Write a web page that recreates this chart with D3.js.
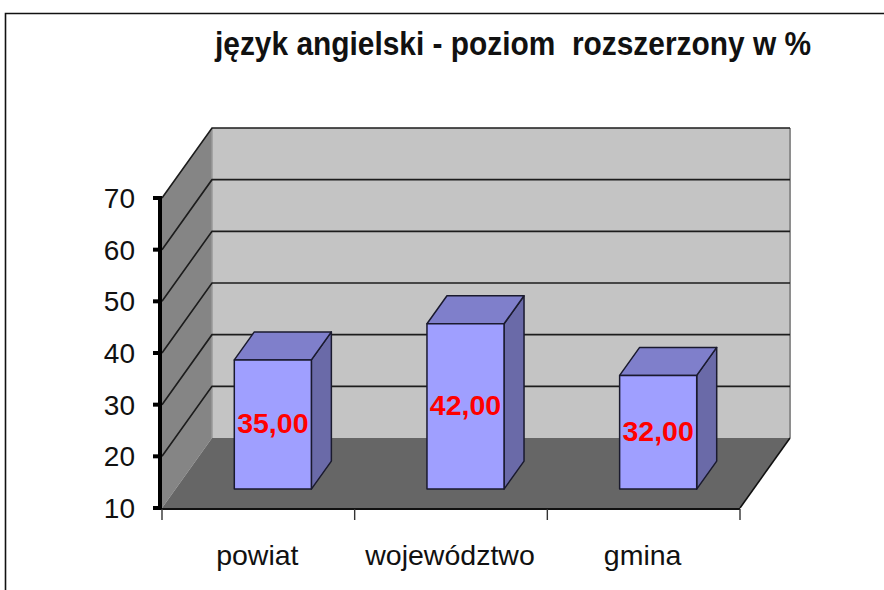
<!DOCTYPE html>
<html>
<head>
<meta charset="utf-8">
<style>
    html, body { margin: 0; padding: 0; background: #fff; }
    svg { display: block; }
    text { font-family: "Liberation Sans", Arial, sans-serif; }
    .title { font-size: 33px; font-weight: bold; fill: #111; white-space: pre; }
    .tick-label { font-size: 28px; fill: #111; }
    .cat-label { font-size: 28.5px; fill: #111; }
    .value { font-size: 28.5px; font-weight: bold; fill: #ff0000; text-anchor: middle; }
    .grid { stroke: #1c1c1c; stroke-width: 1.6; fill: none; }
    .bar-edge { stroke: #1a1a2e; stroke-width: 1.5; stroke-linejoin: round; }
</style>
</head>
<body>
<div id="chart"></div>
<script src="https://d3js.org/d3.v7.min.js"></script>
<script>
var categories = ["powiat", "województwo", "gmina"];
var values = [35, 42, 32];
var valueLabels = ["35,00", "42,00", "32,00"];
var yTicks = [10, 20, 30, 40, 50, 60, 70];
var titleText = "język angielski - poziom  rozszerzony w %";

var width = 884, height = 590;

var svg = d3.select("#chart").append("svg")
    .attr("width", width)
    .attr("height", height);

// scales: y for the value, x for categories, depth for going into the picture
var y = d3.scaleLinear().domain([10, 70]).range([508, 198]);
var x = d3.scaleBand().domain(categories).range([162, 740]).paddingInner(0).paddingOuter(0);
var depthX = d3.scaleLinear().domain([0, 1]).range([0, 50]);
var depthY = d3.scaleLinear().domain([0, 1]).range([0, -70]);

var x0 = x.range()[0], x1 = x.range()[1], yBase = y(10), yTop = y(70);

function pt(px, py, d) {
    return [px + depthX(d), py + depthY(d)];
}
function poly(points) {
    return d3.line()(points) + "Z";
}

// outer frame
svg.append("path")
    .attr("d", "M5.5,590V13.5H884")
    .attr("fill", "none")
    .attr("stroke", "#111")
    .attr("stroke-width", 1.6);

svg.append("text")
    .attr("class", "title")
    .attr("x", 215)
    .attr("y", 55)
    .attr("textLength", 596)
    .attr("lengthAdjust", "spacingAndGlyphs")
    .text(titleText);

// back wall
svg.append("path")
    .attr("d", poly([pt(x0, yTop, 1), pt(x1, yTop, 1), pt(x1, yBase, 1), pt(x0, yBase, 1)]))
    .attr("fill", "#c4c4c4");
svg.append("path")
    .attr("d", d3.line()([pt(x1, yTop, 1), pt(x1, yBase, 1)]))
    .attr("stroke", "#8e8e8e")
    .attr("stroke-width", 2);

// side wall
svg.append("path")
    .attr("d", poly([pt(x0, yTop, 0), pt(x0, yTop, 1), pt(x0, yBase, 1), pt(x0, yBase, 0)]))
    .attr("fill", "#858585");
svg.append("path")
    .attr("d", d3.line()([pt(x0, yTop, 1), pt(x0, yBase, 1)]))
    .attr("stroke", "#9a9a9a")
    .attr("stroke-width", 1.5);

// floor
svg.append("path")
    .attr("d", poly([pt(x0, yBase, 0), pt(x0, yBase, 1), pt(x1, yBase, 1), pt(x1, yBase, 0)]))
    .attr("fill", "#666666");
svg.append("path")
    .attr("d", d3.line()([pt(x1, yBase, 1), pt(x1, yBase, 0)]))
    .attr("stroke", "#111")
    .attr("stroke-width", 1.6);

// gridlines, running along the side wall and the back wall
svg.selectAll("path.grid")
    .data(yTicks.slice(1))
    .enter().append("path")
    .attr("class", "grid")
    .attr("d", function (t) {
        return d3.line()([pt(x0, y(t), 0), pt(x0, y(t), 1), pt(x1, y(t), 1)]);
    });

// bars, front face sits 0.27 into the depth and the bar is 0.4 deep
var barWidth = x.bandwidth() * 0.4;
var zFront = 0.27, zBack = 0.67;

var bar = svg.selectAll("g.bar")
    .data(categories)
    .enter().append("g")
    .attr("class", "bar");

function barLeft(d) { return x(d) + x.bandwidth() / 2 - barWidth / 2 + 1; }
function barTop(i) { return y(values[i]); }

bar.append("path")
    .attr("class", "bar-edge")
    .attr("fill", "#6a6aa8")
    .attr("d", function (d, i) {
        var r = barLeft(d) + barWidth;
        return poly([pt(r, barTop(i), zFront), pt(r, barTop(i), zBack), pt(r, yBase, zBack), pt(r, yBase, zFront)]);
    });

bar.append("path")
    .attr("class", "bar-edge")
    .attr("fill", "#7f7fcb")
    .attr("d", function (d, i) {
        var l = barLeft(d), r = l + barWidth;
        return poly([pt(l, barTop(i), zFront), pt(l, barTop(i), zBack), pt(r, barTop(i), zBack), pt(r, barTop(i), zFront)]);
    });

bar.append("path")
    .attr("class", "bar-edge")
    .attr("fill", "#9f9fff")
    .attr("d", function (d, i) {
        var l = barLeft(d), r = l + barWidth;
        return poly([pt(l, barTop(i), zFront), pt(r, barTop(i), zFront), pt(r, yBase, zFront), pt(l, yBase, zFront)]);
    });

bar.append("text")
    .attr("class", "value")
    .attr("x", function (d) { return barLeft(d) + barWidth / 2 + depthX(zFront); })
    .attr("y", function (d, i) {
        return (barTop(i) + yBase) / 2 + depthY(zFront) + 8.5;
    })
    .text(function (d, i) { return valueLabels[i]; });

// y axis
svg.append("path")
    .attr("d", d3.line()([[x0 - 2, yTop - 1], [x0 - 2, yBase + 2]]))
    .attr("stroke", "#000")
    .attr("stroke-width", 4);

svg.selectAll("line.ytick")
    .data(yTicks)
    .enter().append("line")
    .attr("class", "ytick")
    .attr("x1", 153)
    .attr("x2", x0)
    .attr("y1", function (t) { return y(t); })
    .attr("y2", function (t) { return y(t); })
    .attr("stroke", "#000")
    .attr("stroke-width", 4);

svg.selectAll("text.tick-label")
    .data(yTicks)
    .enter().append("text")
    .attr("class", "tick-label")
    .attr("x", 135)
    .attr("y", function (t) { return y(t) + 10; })
    .attr("text-anchor", "end")
    .text(function (t) { return t; });

// x axis
svg.append("path")
    .attr("d", d3.line()([[x0, yBase + 1], [x1, yBase + 1]]))
    .attr("stroke", "#111")
    .attr("stroke-width", 1.8);

svg.selectAll("line.xtick")
    .data(categories.concat(["end"]))
    .enter().append("line")
    .attr("class", "xtick")
    .attr("x1", function (d) { return d === "end" ? x1 : x(d); })
    .attr("x2", function (d) { return d === "end" ? x1 : x(d); })
    .attr("y1", yBase + 1)
    .attr("y2", 520)
    .attr("stroke", "#333")
    .attr("stroke-width", 1.4);

svg.selectAll("text.cat-label")
    .data(categories)
    .enter().append("text")
    .attr("class", "cat-label")
    .attr("x", function (d) { return x(d) + x.bandwidth() / 2 - 1; })
    .attr("y", 565)
    .attr("text-anchor", "middle")
    .text(function (d) { return d; });
</script>
</body>
</html>
